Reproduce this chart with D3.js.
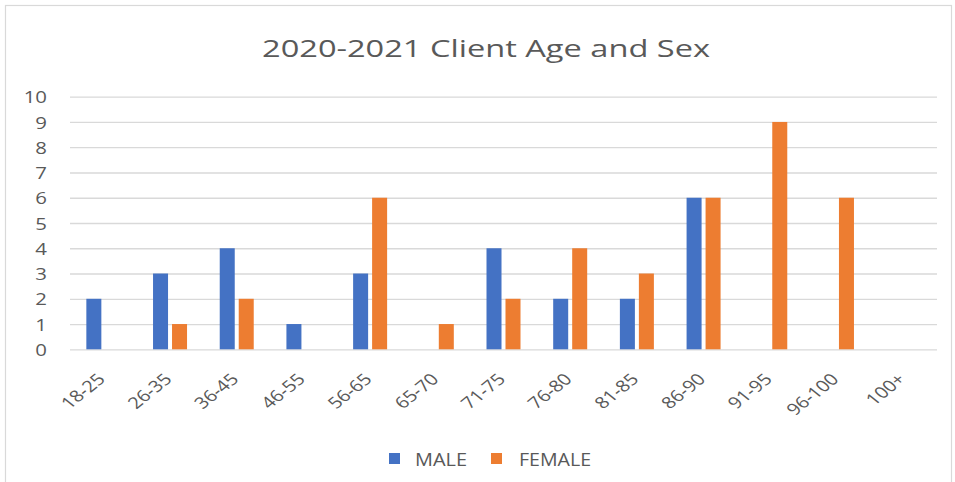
<!DOCTYPE html>
<html>
<head>
<meta charset="utf-8">
<script src="https://cdn.jsdelivr.net/npm/d3@7"></script>
<style>
  body { margin: 0; background: #fff; }
  text { font-family: "Open Sans", sans-serif; fill: #595959; }
</style>
</head>
<body>
<div id="container"></div>
<script>
// ******* Chart data *******
var categories = ["18-25", "26-35", "36-45", "46-55", "56-65", "65-70", "71-75", "76-80", "81-85", "86-90", "91-95", "96-100", "100+"]
var male = [2, 3, 4, 1, 3, 0, 4, 2, 2, 6, 0, 0, 0]
var female = [0, 1, 2, 0, 6, 1, 2, 4, 3, 6, 9, 6, 0]
var yTicks = [0, 1, 2, 3, 4, 5, 6, 7, 8, 9, 10]
var seriesNames = ["MALE", "FEMALE"]
var colors = {"MALE": "#4472C4", "FEMALE": "#ED7D31"}

var width = 955, height = 482;
var plotLeft = 70, plotRight = 937, plotTop = 96.7, plotBottom = 349.3; // note: "top" is taken by window.top

var svg = d3.select("#container").append("svg")
  .attr("width", width)
  .attr("height", height)

// chart frame
svg.append("rect")
  .attr("x", 5.5).attr("y", 5.5)
  .attr("width", 946).attr("height", 490)
  .attr("fill", "none")
  .attr("stroke", "#D9D9D9")
  .attr("stroke-width", 1.2)

// title
svg.append("text")
  .attr("x", 262).attr("y", 57)
  .attr("textLength", 448)
  .attr("lengthAdjust", "spacingAndGlyphs")
  .style("font-size", "24px")
  .text("2020-2021 Client Age and Sex");

var x0 = d3.scaleBand().domain(categories).range([plotLeft, plotRight]);
var bw = x0.bandwidth();
var x1 = d3.scaleBand().domain(seriesNames).range([bw / 2 - 17, bw / 2 + 17]).paddingInner(0.21);
var y = d3.scaleLinear().domain([0, 10]).range([plotBottom, plotTop]);

// y axis with gridlines
var yAxis = d3.axisLeft(y).tickValues(yTicks).tickSize(-(plotRight - plotLeft)).tickPadding(0);
var gy = svg.append("g")
  .attr("transform", "translate(" + plotLeft + ",0)")
  .call(yAxis);
gy.select(".domain").remove();
gy.selectAll("line").attr("stroke", "#D9D9D9").attr("stroke-width", 1.3);
gy.selectAll("text")
  .attr("x", 0).attr("dy", "0.36em")
  .attr("transform", "translate(-23,0) scale(1.2,1)")
  .style("font-size", "17px")
  .style("fill", "#595959");

// x axis labels
var xAxis = d3.axisBottom(x0).tickSize(0);
var gx = svg.append("g")
  .attr("transform", "translate(0," + plotBottom + ")")
  .call(xAxis);
gx.select(".domain").remove();
gx.selectAll("text")
  .attr("x", 0).attr("y", 0).attr("dy", 0)
  .attr("text-anchor", "end")
  .attr("transform", "translate(3,31) scale(1.25,1) rotate(-45)")
  .style("font-size", "16px")
  .style("fill", "#595959");

// bars
var rows = categories.map(function(c, i) {
  return {cat: c, values: [{key: "MALE", v: male[i]}, {key: "FEMALE", v: female[i]}]};
});

var groups = svg.selectAll(".group")
  .data(rows)
  .enter().append("g")
  .attr("class", "group")
  .attr("transform", function(d) { return "translate(" + x0(d.cat) + ",0)"; });

groups.selectAll("rect")
  .data(function(d) { return d.values; })
  .enter().append("rect")
  .attr("x", function(d) { return x1(d.key); })
  .attr("width", x1.bandwidth())
  .attr("y", function(d) { return y(d.v); })
  .attr("height", function(d) { return plotBottom - y(d.v); })
  .attr("fill", function(d) { return colors[d.key]; });

// legend
var legendPos = {"MALE": {sq: 389, tx: 415, len: 52}, "FEMALE": {sq: 491, tx: 519, len: 72}};
seriesNames.forEach(function(s) {
  svg.append("rect")
    .attr("x", legendPos[s].sq).attr("y", 453)
    .attr("width", 11).attr("height", 11)
    .attr("fill", colors[s]);
  svg.append("text")
    .attr("x", legendPos[s].tx).attr("y", 466)
    .attr("textLength", legendPos[s].len)
    .attr("lengthAdjust", "spacingAndGlyphs")
    .style("font-size", "18px")
    .text(s);
});
</script>
</body>
</html>
